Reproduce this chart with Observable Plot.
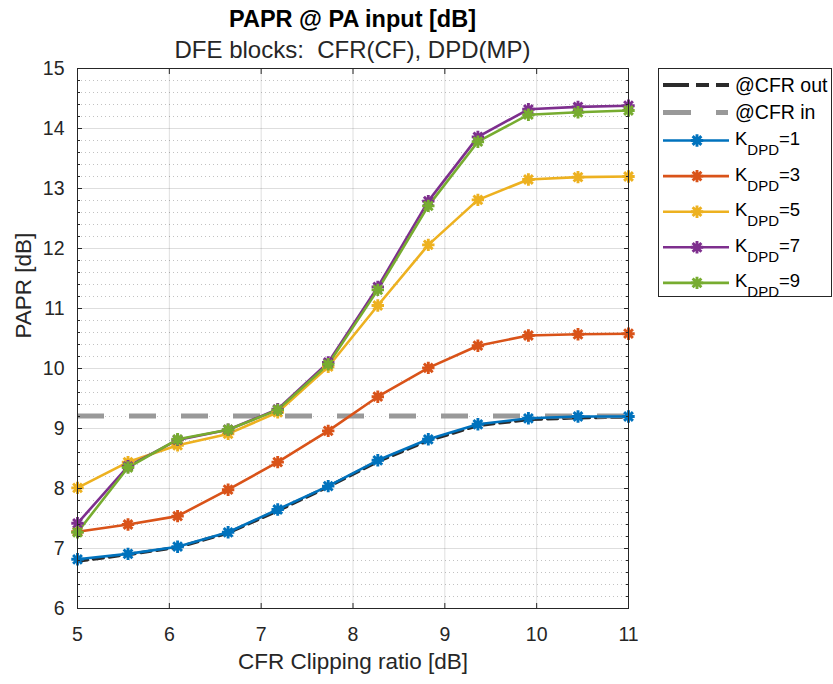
<!DOCTYPE html>
<html>
<head>
<meta charset="utf-8">
<script src="https://cdn.jsdelivr.net/npm/d3@7"></script>
<script src="https://cdn.jsdelivr.net/npm/@observablehq/plot@0.6"></script>
<style>
  html, body { margin: 0; padding: 0; background: #fff; }
  #wrap { position: relative; width: 833px; height: 684px; font-family: "Liberation Sans", Arial, sans-serif; color: #262626; }
  .title { position: absolute; left: 77px; width: 551px; text-align: center; white-space: pre; color: #000; line-height: 1; }
  #t1 { top: 8px; font-size: 23.5px; font-weight: bold; }
  #t2 { top: 38px; font-size: 24px; color: #262626; }
  #legend { position: absolute; left: 658px; top: 68px; }
</style>
</head>
<body>
<div id="wrap">
  <div id="chart"></div>
  <div class="title" id="t1">PAPR @ PA input [dB]</div>
  <div class="title" id="t2">DFE blocks:  CFR(CF), DPD(MP)</div>
  <svg id="legend" width="175" height="232"></svg>
</div>
<script>
// CFR clipping ratio sweep [dB]
const clip = [5, 5.55, 6.09, 6.64, 7.18, 7.73, 8.27, 8.82, 9.36, 9.91, 10.45, 11];

// PAPR after the CFR block, and the PAPR of the signal entering CFR [dB]
const cfrOut = [6.79, 6.9, 7.02, 7.26, 7.63, 8.03, 8.45, 8.8, 9.05, 9.15, 9.18, 9.19];
const cfrIn = 9.21;

// PAPR at the PA input for each DPD nonlinearity order K_DPD [dB]
const kOrders = [1, 3, 5, 7, 9];
const paprK1 = [6.82, 6.91, 7.03, 7.27, 7.65, 8.04, 8.47, 8.82, 9.07, 9.17, 9.2, 9.2];
const paprK3 = [7.28, 7.40, 7.54, 7.98, 8.44, 8.96, 9.53, 10.01, 10.38, 10.55, 10.57, 10.58];
const paprK5 = [8.01, 8.44, 8.72, 8.91, 9.27, 10.03, 11.05, 12.06, 12.81, 13.15, 13.19, 13.2];
const paprK7 = [7.42, 8.37, 8.81, 8.98, 9.32, 10.1, 11.36, 12.79, 13.86, 14.32, 14.36, 14.38];
const paprK9 = [7.27, 8.35, 8.82, 8.98, 9.31, 10.07, 11.31, 12.71, 13.78, 14.23, 14.27, 14.3];

// axis ticks and labels
const xTicks = [5, 6, 7, 8, 9, 10, 11];
const yTicks = [6, 7, 8, 9, 10, 11, 12, 13, 14, 15];
const yMinorTicks = [6.2, 6.4, 6.6, 6.8, 7.2, 7.4, 7.6, 7.8, 8.2, 8.4, 8.6, 8.8, 9.2, 9.4, 9.6, 9.8,
  10.2, 10.4, 10.6, 10.8, 11.2, 11.4, 11.6, 11.8, 12.2, 12.4, 12.6, 12.8, 13.2, 13.4, 13.6, 13.8,
  14.2, 14.4, 14.6, 14.8];
const xLabel = "CFR Clipping ratio [dB]";
const yLabel = "PAPR [dB]";

const colors = ["#0072BD", "#D95319", "#EDB120", "#7E2F8E", "#77AC30"];
const kSeries = [paprK1, paprK3, paprK5, paprK7, paprK9];

const rows = kSeries.flatMap((vals, s) =>
  vals.map((v, i) => ({k: kOrders[s], color: colors[s], x: clip[i], y: v})));
const outRows = cfrOut.map((v, i) => ({x: clip[i], y: v}));

// eight-armed asterisk marker
const star = {
  draw(context, size) {
    const r = Math.sqrt(size / Math.PI);
    for (const a of [0, Math.PI / 4, Math.PI / 2, 3 * Math.PI / 4]) {
      const c = Math.cos(a) * r, s = Math.sin(a) * r;
      context.moveTo(c, s);
      context.lineTo(-c, -s);
    }
  }
};

const axisColor = "#262626";
const font = "'Liberation Sans', Arial, sans-serif";

const chart = Plot.plot({
  width: 833,
  height: 684,
  marginLeft: 77,
  marginRight: 205,
  marginTop: 68,
  marginBottom: 76,
  style: {fontFamily: font, fontSize: "19.5px", color: axisColor, background: "transparent"},
  x: {domain: [5, 11]},
  y: {domain: [6, 15]},
  marks: [
    Plot.gridY(yMinorTicks, {stroke: "#999", strokeOpacity: 0.6, strokeDasharray: "1,3"}),
    Plot.gridY(yTicks, {stroke: "#000", strokeOpacity: 0.13}),
    Plot.gridX(xTicks, {stroke: "#000", strokeOpacity: 0.13}),
    Plot.line(outRows, {x: "x", y: "y", stroke: "#2b2b2b", strokeWidth: 3.4, strokeDasharray: "10,6"}),
    Plot.ruleY([cfrIn], {stroke: "#999", strokeWidth: 5, strokeDasharray: "27,25"}),
    Plot.line(rows, {x: "x", y: "y", z: "k", stroke: "color", strokeWidth: 2.6}),
    Plot.dot(rows, {x: "x", y: "y", stroke: "color", fill: "none", symbol: star, r: 6.2, strokeWidth: 2.9}),
    Plot.frame({stroke: axisColor}),
    Plot.axisX(xTicks, {anchor: "bottom", tickSize: -5, tickPadding: 24, stroke: axisColor,
      tickFormat: d => d, label: null}),
    Plot.axisX(xTicks, {anchor: "top", tickSize: -5, tickFormat: () => "", label: null, stroke: axisColor}),
    Plot.axisY(yTicks, {anchor: "left", tickSize: -5, tickPadding: 18, stroke: axisColor,
      tickFormat: d => d, label: null}),
    Plot.axisY(yTicks, {anchor: "right", tickSize: -5, tickFormat: () => "", label: null, stroke: axisColor}),
    Plot.axisY(yMinorTicks, {anchor: "left", tickSize: -3, tickFormat: () => "", label: null, stroke: axisColor}),
    Plot.axisY(yMinorTicks, {anchor: "right", tickSize: -3, tickFormat: () => "", label: null, stroke: axisColor}),
    Plot.text([xLabel], {text: d => d, frameAnchor: "bottom", dy: 60, fontSize: 22.5, fill: axisColor}),
    Plot.text([yLabel], {text: d => d, frameAnchor: "left", dx: -53.5, rotate: -90, fontSize: 22.5, fill: axisColor})
  ]
});
document.getElementById("chart").appendChild(chart);

// legend box
const legend = d3.select("#legend");
legend.append("rect").attr("x", 0.5).attr("y", 0.5).attr("width", 173).attr("height", 228)
  .attr("fill", "#fff").attr("stroke", axisColor);
const entries = [
  {label: "@CFR out", stroke: "#2b2b2b", width: 4, dash: "26,7,13,7,13", marker: false, y: 17},
  {label: "@CFR in", stroke: "#999", width: 5, dash: "28,25,12", marker: false, y: 44.5},
  ...kOrders.map((k, i) => ({k, stroke: colors[i], width: 2.6, dash: null, marker: true, y: 72.5 + i * 35.6}))
];
for (const e of entries) {
  const g = legend.append("g").attr("transform", `translate(0,${e.y})`);
  g.append("line").attr("x1", 5).attr("x2", 71).attr("y1", 0).attr("y2", 0)
    .attr("stroke", e.stroke).attr("stroke-width", e.width)
    .attr("stroke-dasharray", e.dash);
  if (e.marker) {
    g.append("path").attr("transform", "translate(39,0)")
      .attr("d", d3.symbol(star, Math.PI * 6.2 * 6.2)())
      .attr("fill", "none").attr("stroke", e.stroke).attr("stroke-width", 2.9);
  }
  const t = g.append("text").attr("x", 77)
    .attr("font-family", font).attr("fill", "#000");
  if (e.label) {
    t.attr("y", 0).attr("dy", "0.35em").attr("font-size", 19.5).text(e.label);
  } else {
    t.attr("y", 4.5).attr("font-size", 18.5);
    t.append("tspan").text("K");
    t.append("tspan").attr("font-size", 15).attr("dy", 10).text("DPD");
    t.append("tspan").attr("dy", -10).text("=" + e.k);
  }
}
</script>
</body>
</html>
